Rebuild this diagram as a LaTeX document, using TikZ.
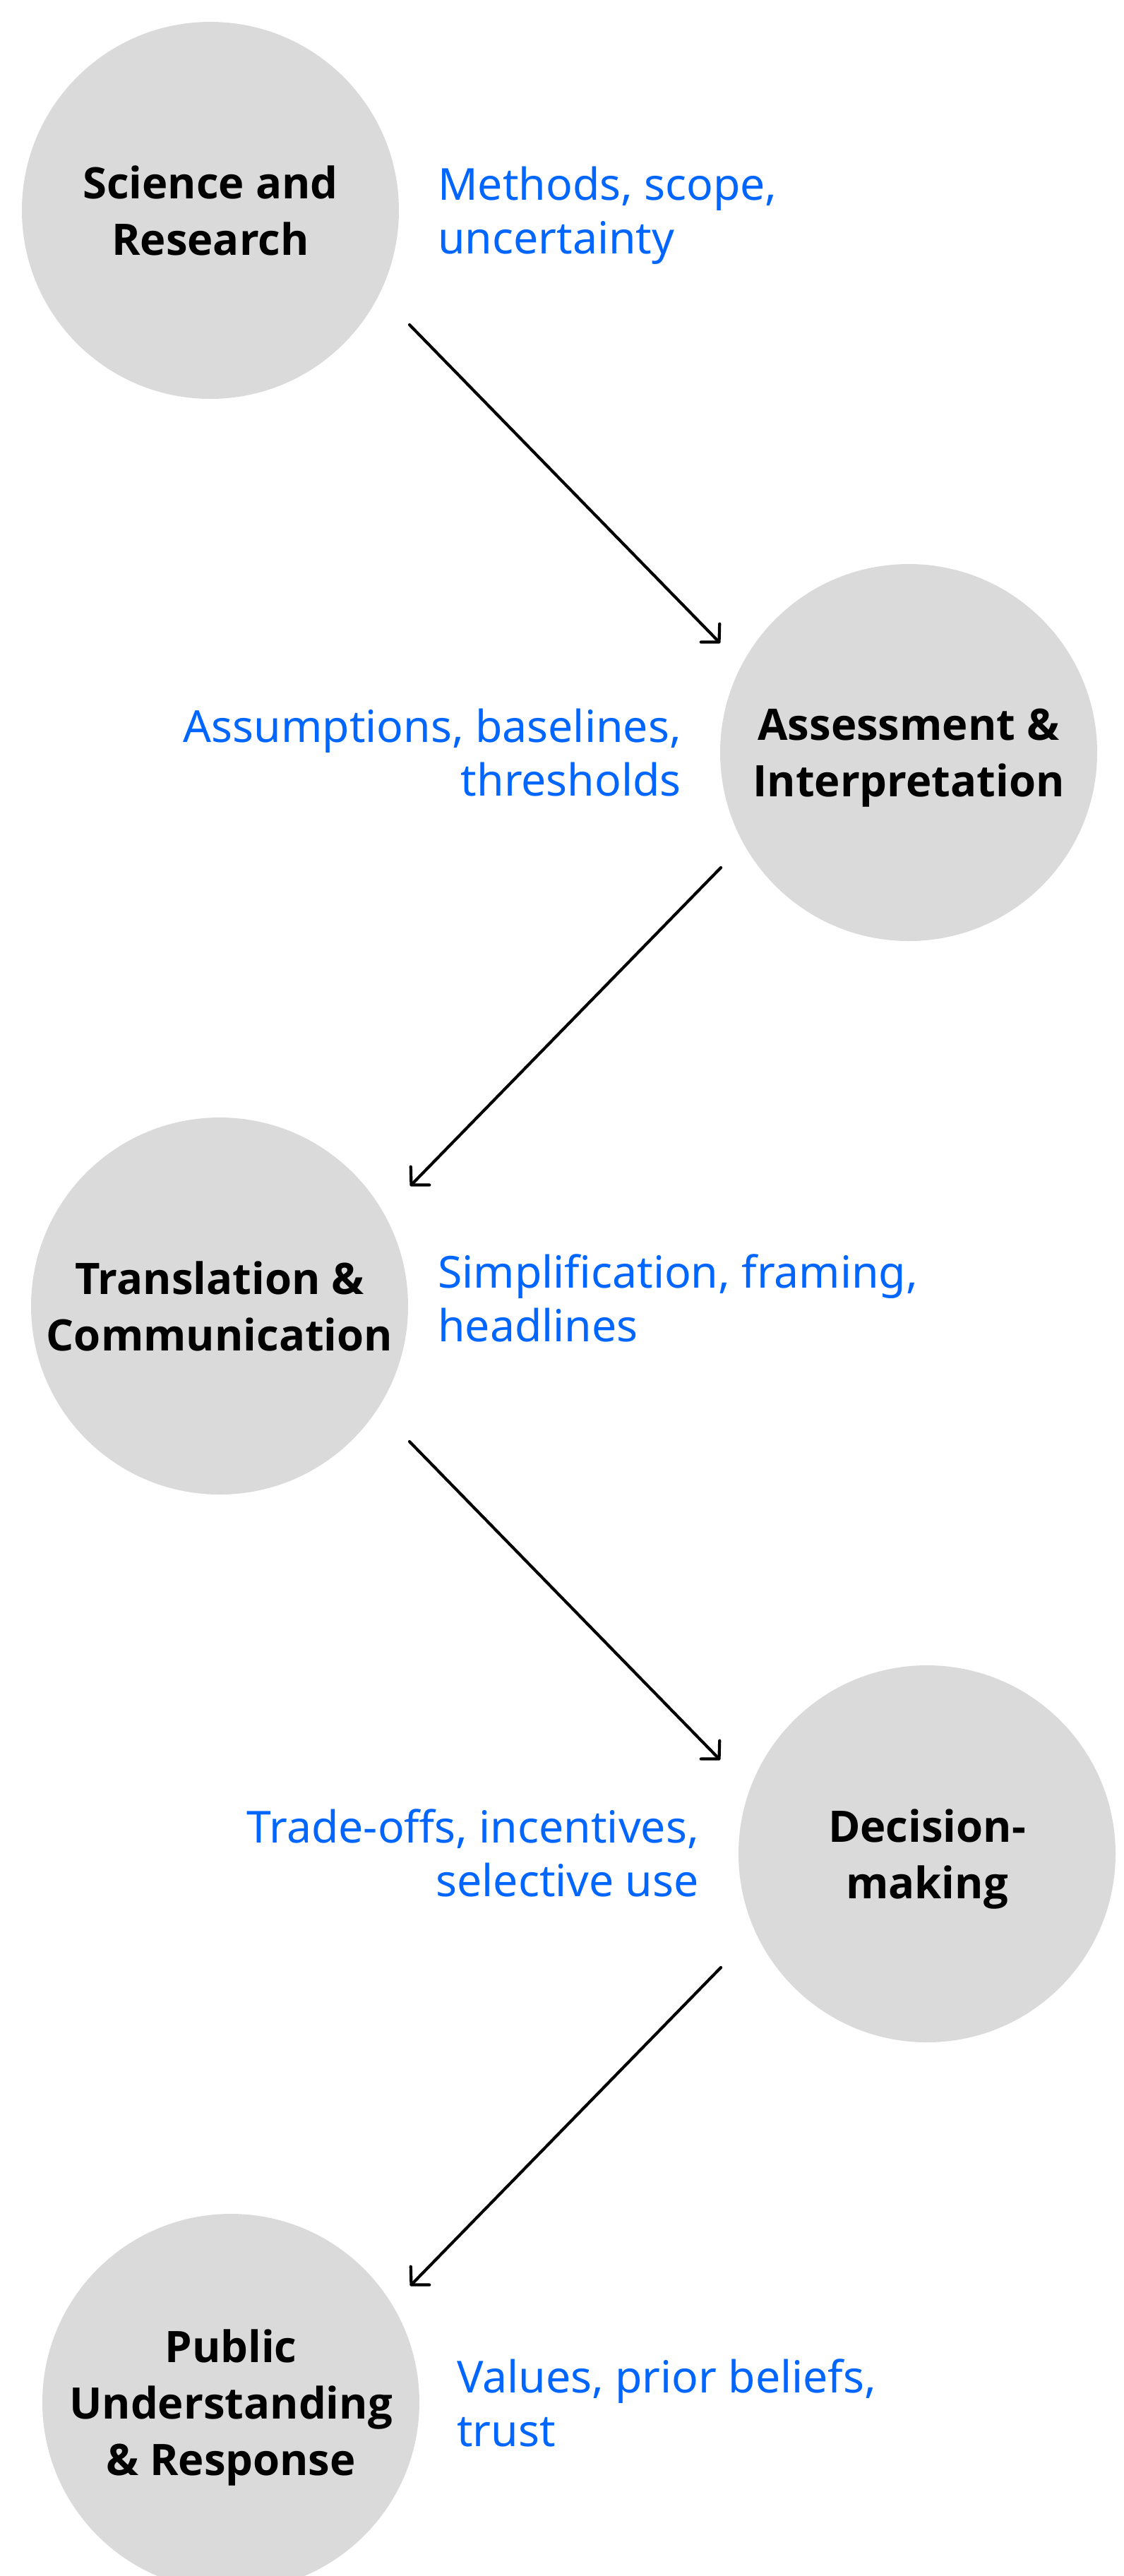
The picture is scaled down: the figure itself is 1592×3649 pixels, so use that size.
\documentclass[tikz,border=0pt]{standalone}
\usepackage{fontspec}
\setmainfont{Noto Sans}
\newfontfamily\stagefont{Open Sans}
\usetikzlibrary{arrows.meta}
\definecolor{circfill}{RGB}{218,218,218}
\definecolor{lblue}{RGB}{0,102,255}
\begin{document}
\begin{tikzpicture}[x=1pt,y=-1pt,
  stage/.style={circle, fill=circfill, minimum size=534pt, inner sep=0pt, align=center,
    font=\stagefont\bfseries\fontsize{61.5}{80}\selectfont, text depth=0pt},
  note/.style={text=lblue, font=\fontsize{62.5}{76}\selectfont, inner sep=0pt},
  flow/.style={line width=4.2pt, line cap=round, line join=round,
    -{Straight Barb[length=18pt,width=37pt,line cap=round,line join=round]}}
]
\path[use as bounding box] (0,0) rectangle (1592,3649);

\node[stage] (sci) at (298,298) {Science and\\Research};
\node[stage] (ass) at (1287,1066) {Assessment \&\\Interpretation};
\node[stage] (tra) at (311,1850) {Translation \&\\Communication};
\node[stage] (dec) at (1313,2626) {Decision-\\making};
\node[stage] (pub) at (327,3403) {Public\\Understanding\\\& Response};

\node[note, anchor=base west] (n1) at (620,283) {\begin{tabular}[t]{@{}l@{}}Methods, scope,\\uncertainty\end{tabular}};
\node[note, anchor=base east] (n2) at (965,1051) {\begin{tabular}[t]{@{}r@{}}Assumptions, baselines,\\thresholds\end{tabular}};
\node[note, anchor=base west] (n3) at (620,1824) {\begin{tabular}[t]{@{}l@{}}Simplification, framing,\\headlines\end{tabular}};
\node[note, anchor=base east] (n4) at (990,2610) {\begin{tabular}[t]{@{}r@{}}Trade-offs, incentives,\\selective use\end{tabular}};
\node[note, anchor=base west] (n5) at (647,3389) {\begin{tabular}[t]{@{}l@{}}Values, prior beliefs,\\trust\end{tabular}};

\coordinate (a1s) at (580,460);
\coordinate (a1e) at (1020,911);
\coordinate (a2s) at (1021,1229);
\coordinate (a2e) at (581,1680);
\coordinate (a3s) at (580,2042);
\coordinate (a3e) at (1020,2493);
\coordinate (a4s) at (1021,2787);
\coordinate (a4e) at (581,3238);

\draw[flow] (a1s) -- (a1e);
\draw[flow] (a2s) -- (a2e);
\draw[flow] (a3s) -- (a3e);
\draw[flow] (a4s) -- (a4e);
\end{tikzpicture}
\end{document}
